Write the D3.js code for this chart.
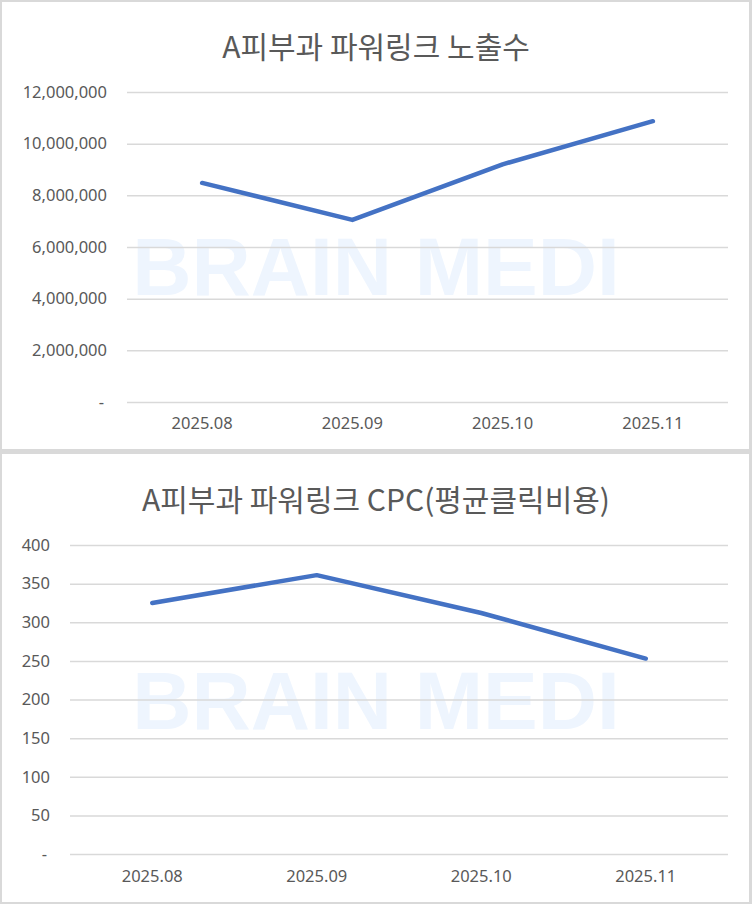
<!DOCTYPE html>
<html>
<head>
<meta charset="utf-8">
<script src="https://cdn.jsdelivr.net/npm/d3@7/dist/d3.min.js"></script>
<style>
  body { margin: 0; background: #fff; }
  svg { display: block; }
</style>
</head>
<body>
<svg id="chart" width="752" height="904"></svg>
<script>
// data
var months = ["2025.08", "2025.09", "2025.10", "2025.11"];
var impressions = [8480000, 7050000, 9200000, 10870000];
var cpc = [325, 361, 312, 253];
var impTicks = [0, 2000000, 4000000, 6000000, 8000000, 10000000, 12000000];
var cpcTicks = [0, 50, 100, 150, 200, 250, 300, 350, 400];

var svg = d3.select("#chart");
var textColor = "#595959",
    gridColor = "#d9d9d9",
    lineColor = "#4472c4";

svg.append("rect")
    .attr("width", 752).attr("height", 904)
    .attr("fill", gridColor);

function drawPanel(opt) {
  var g = svg.append("g");

  g.append("rect")
      .attr("x", 2).attr("y", opt.top)
      .attr("width", 747).attr("height", opt.h)
      .attr("fill", "#fff");

  // watermark
  g.append("text")
      .attr("x", 376).attr("y", opt.wmY)
      .attr("text-anchor", "middle")
      .attr("font-family", "Liberation Sans, Arial, sans-serif")
      .attr("font-weight", "bold")
      .attr("font-size", 82)
      .attr("fill", "#eef5fe")
      .text("BRAIN MEDI");

  g.append("text")
      .attr("x", 376).attr("y", opt.titleY)
      .attr("text-anchor", "middle")
      .attr("dominant-baseline", "central")
      .attr("font-family", "Noto Sans CJK KR, sans-serif")
      .attr("font-size", 30)
      .attr("fill", textColor)
      .text(opt.title);

  var x = d3.scaleBand().domain(months).range([opt.left, 728]);
  var y = d3.scaleLinear().domain(opt.domain).range([opt.bottom, opt.topY]);

  var fmt = d3.format(",");
  var yAxis = g.append("g")
      .attr("transform", "translate(" + opt.left + ",0)")
      .call(d3.axisLeft(y)
        .tickValues(opt.ticks)
        .tickSize(-(728 - opt.left))
        .tickPadding(20)
        .tickFormat(function(d) { return d === 0 ? "-" : fmt(d); }));
  yAxis.select(".domain").remove();
  yAxis.selectAll(".tick line")
      .attr("stroke", gridColor)
      .attr("stroke-width", 1.5);
  yAxis.selectAll(".tick text")
      .attr("font-family", "Noto Sans, sans-serif")
      .attr("font-size", 16.5)
      .attr("fill", textColor)
      .attr("dx", function(d) { return d === 0 ? -3 : 0; });

  var xAxis = g.append("g")
      .attr("transform", "translate(0," + opt.bottom + ")")
      .call(d3.axisBottom(x).tickSize(0).tickPadding(opt.xPad));
  xAxis.select(".domain").remove();
  xAxis.selectAll(".tick text")
      .attr("font-family", "Noto Sans, sans-serif")
      .attr("font-size", 16.5)
      .attr("fill", textColor);

  var line = d3.line()
      .x(function(d, i) { return x(months[i]) + x.bandwidth() / 2; })
      .y(function(d) { return y(d); });

  g.append("path")
      .datum(opt.values)
      .attr("d", line)
      .attr("fill", "none")
      .attr("stroke", lineColor)
      .attr("stroke-width", 4.5)
      .attr("stroke-linecap", "round")
      .attr("stroke-linejoin", "round");
}

drawPanel({
  top: 2, h: 447,
  title: "A피부과 파워링크 노출수", titleY: 45,
  wmY: 295,
  left: 127, bottom: 402, topY: 92,
  domain: [0, 12000000], ticks: impTicks,
  values: impressions, xPad: 15
});

drawPanel({
  top: 454, h: 448,
  title: "A피부과 파워링크 CPC(평균클릭비용)", titleY: 498,
  wmY: 729,
  left: 70, bottom: 854, topY: 545,
  domain: [0, 400], ticks: cpcTicks,
  values: cpc, xPad: 16
});
</script>
</body>
</html>
